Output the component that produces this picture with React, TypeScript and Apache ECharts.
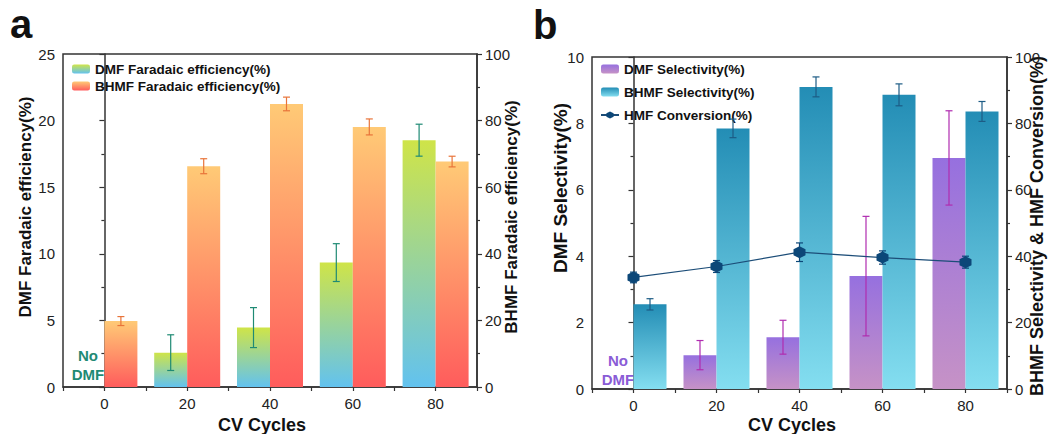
import React, { useEffect, useRef } from "react";
import * as echarts from "echarts";

// ---------------- data ----------------
const CYCLES = [0, 20, 40, 60, 80];
const X_TICK_LABELS = [0, 20, 40, 60, 80];

// panel a
const DMF_FE = [null, 2.58, 4.46, 9.34, 18.53];
const DMF_FE_ERR = [null, 1.34, 1.5, 1.42, 1.2];
const BHMF_FE = [19.8, 66.3, 85.0, 78.1, 67.7];
const BHMF_FE_ERR = [1.35, 2.25, 2.05, 2.4, 1.6];

// panel b
const DMF_SEL = [null, 1.02, 1.56, 3.4, 6.96];
const DMF_SEL_ERR = [null, 0.44, 0.51, 1.8, 1.42];
const BHMF_SEL = [25.5, 78.5, 91.0, 88.6, 83.6];
const BHMF_SEL_ERR = [1.7, 2.8, 3.0, 3.3, 3.0];
const HMF_CONV = [33.6, 36.9, 41.2, 39.6, 38.2];
const HMF_CONV_ERR = [1.6, 1.8, 2.8, 2.0, 1.8];

const FONT = '"Liberation Sans", Arial, Helvetica, sans-serif';
const BAR_W = 33;
const HEX = "path://M50 0 L93.3 25 L93.3 75 L50 100 L6.7 75 L6.7 25 Z";

const grad = (top: string, bottom: string) =>
  new echarts.graphic.LinearGradient(0, 0, 0, 1, [
    { offset: 0, color: top },
    { offset: 1, color: bottom },
  ]);

const pairs = (vals: (number | null)[]) =>
  CYCLES.map((c, i) => [c, vals[i]]).filter((d) => d[1] != null);
const triples = (vals: (number | null)[], errs: (number | null)[]) =>
  CYCLES.map((c, i) => [c, vals[i], errs[i]]).filter((d) => d[1] != null);

function errBar(offsetPx: number, color: string, capHalf: number) {
  return (params: any, api: any) => {
    const x = api.value(0);
    const v = api.value(1);
    const e = api.value(2);
    const p1 = api.coord([x, v + e]);
    const p2 = api.coord([x, v - e]);
    const cx = p1[0] + offsetPx;
    const style = { stroke: color, lineWidth: 1.2 };
    return {
      type: "group",
      children: [
        { type: "line", shape: { x1: cx, y1: p1[1], x2: cx, y2: p2[1] }, style },
        { type: "line", shape: { x1: cx - capHalf, y1: p1[1], x2: cx + capHalf, y2: p1[1] }, style },
        { type: "line", shape: { x1: cx - capHalf, y1: p2[1], x2: cx + capHalf, y2: p2[1] }, style },
      ],
    };
  };
}

const AX = "#333";
const xAxisBase = (gridIndex: number) => ({
  type: "value",
  gridIndex,
  min: -10,
  max: 90,
  interval: 10,
  axisLine: { show: true, onZero: false, lineStyle: { color: AX, width: 1.5 } },
  axisTick: { show: true, length: 4, lineStyle: { color: AX, width: 1.2 } },
  axisLabel: {
    formatter: (v: number) => (X_TICK_LABELS.includes(v) ? String(v) : ""),
    fontSize: 15,
    color: "#222",
    margin: 9,
    fontFamily: FONT,
  },
  splitLine: { show: false },
});

const yAxisBase = (gridIndex: number, position: string, max: number, interval: number) => ({
  type: "value",
  gridIndex,
  position,
  min: 0,
  max,
  interval,
  axisLine: { show: true, lineStyle: { color: AX, width: 1.5 } },
  axisTick: { show: true, length: 5, lineStyle: { color: AX, width: 1.2 } },
  minorTick: { show: true, splitNumber: 2, length: 3, lineStyle: { color: AX, width: 1.2 } },
  axisLabel: { fontSize: 15, color: "#222", margin: 8, fontFamily: FONT },
  splitLine: { show: false },
  minorSplitLine: { show: false },
});

const titleText = (text: string, x: number, y: number, size: number, rotate: boolean) => ({
  type: "text",
  x,
  y,
  rotation: rotate ? Math.PI / 2 : 0,
  style: {
    text,
    font: `bold ${size}px ${FONT}`,
    fill: "#111",
    align: "center",
    verticalAlign: "middle",
  },
});

export default function App() {
  const ref = useRef<HTMLDivElement>(null);
  useEffect(() => {
    if (!ref.current) return;
    const chart = echarts.init(ref.current, null, { renderer: "svg" });
    const option: any = {
      animation: false,
      backgroundColor: "#fff",
      textStyle: { fontFamily: FONT },
      grid: [
        { left: 63, top: 54, width: 414, height: 333, show: true, borderColor: AX, borderWidth: 1.5, backgroundColor: "transparent" },
        { left: 592, top: 57, width: 415, height: 332, show: true, borderColor: AX, borderWidth: 1.5, backgroundColor: "transparent" },
      ],
      xAxis: [xAxisBase(0), xAxisBase(1)],
      yAxis: [
        yAxisBase(0, "left", 25, 5),
        yAxisBase(0, "right", 100, 20),
        yAxisBase(1, "left", 10, 2),
        yAxisBase(1, "right", 100, 20),
      ],
      legend: [
        {
          orient: "vertical",
          left: 72,
          top: 62,
          padding: 0,
          itemWidth: 18,
          itemHeight: 9,
          itemGap: 3,
          textStyle: { fontSize: 13.5, fontWeight: "bold", color: "#111", fontFamily: FONT },
          data: ["DMF Faradaic efficiency(%)", "BHMF Faradaic efficiency(%)"],
        },
        {
          orient: "vertical",
          left: 600,
          top: 62,
          padding: 0,
          itemWidth: 18,
          itemHeight: 9,
          itemGap: 9,
          textStyle: { fontSize: 13.5, fontWeight: "bold", color: "#111", fontFamily: FONT },
          data: ["DMF Selectivity(%)", "BHMF Selectivity(%)", "HMF Conversion(%)"],
        },
      ],
      series: [
        // panel a bars
        {
          name: "DMF Faradaic efficiency(%)",
          type: "bar",
          xAxisIndex: 0,
          yAxisIndex: 0,
          barWidth: BAR_W,
          barGap: "0%",
          itemStyle: { color: grad("#cfe448", "#62c2ef") },
          data: pairs(DMF_FE),
        },
        {
          name: "BHMF Faradaic efficiency(%)",
          type: "bar",
          xAxisIndex: 0,
          yAxisIndex: 1,
          barWidth: BAR_W,
          barGap: "0%",
          itemStyle: { color: grad("#ffca76", "#ff5c5c") },
          data: pairs(BHMF_FE),
        },
        {
          name: "DMF FE error",
          type: "custom",
          xAxisIndex: 0,
          yAxisIndex: 0,
          z: 5,
          encode: { x: 0, y: [1] },
          renderItem: errBar(-BAR_W / 2, "#1f8a74", 3.5),
          data: triples(DMF_FE, DMF_FE_ERR),
        },
        {
          name: "BHMF FE error",
          type: "custom",
          xAxisIndex: 0,
          yAxisIndex: 1,
          z: 5,
          encode: { x: 0, y: [1] },
          renderItem: errBar(BAR_W / 2, "#e8743a", 3.5),
          data: triples(BHMF_FE, BHMF_FE_ERR),
        },
        // panel b bars
        {
          name: "DMF Selectivity(%)",
          type: "bar",
          xAxisIndex: 1,
          yAxisIndex: 2,
          barWidth: BAR_W,
          barGap: "0%",
          itemStyle: { color: grad("#9670df", "#c692c6") },
          data: pairs(DMF_SEL),
        },
        {
          name: "BHMF Selectivity(%)",
          type: "bar",
          xAxisIndex: 1,
          yAxisIndex: 3,
          barWidth: BAR_W,
          barGap: "0%",
          itemStyle: { color: grad("#238db5", "#84def0") },
          data: pairs(BHMF_SEL),
        },
        {
          name: "DMF Sel error",
          type: "custom",
          xAxisIndex: 1,
          yAxisIndex: 2,
          z: 5,
          encode: { x: 0, y: [1] },
          renderItem: errBar(-BAR_W / 2, "#b02cb0", 3.5),
          data: triples(DMF_SEL, DMF_SEL_ERR),
        },
        {
          name: "BHMF Sel error",
          type: "custom",
          xAxisIndex: 1,
          yAxisIndex: 3,
          z: 5,
          encode: { x: 0, y: [1] },
          renderItem: errBar(BAR_W / 2, "#1d5c85", 3.5),
          data: triples(BHMF_SEL, BHMF_SEL_ERR),
        },
        {
          name: "HMF Conv error",
          type: "custom",
          xAxisIndex: 1,
          yAxisIndex: 3,
          z: 5,
          encode: { x: 0, y: [1] },
          renderItem: errBar(0, "#0c4778", 3.5),
          data: triples(HMF_CONV, HMF_CONV_ERR),
        },
        {
          name: "HMF Conversion(%)",
          type: "line",
          xAxisIndex: 1,
          yAxisIndex: 3,
          z: 6,
          symbol: HEX,
          symbolSize: 12,
          itemStyle: { color: "#0c4778" },
          lineStyle: { color: "#1c4d78", width: 1.2 },
          data: pairs(HMF_CONV),
        },
      ],
      graphic: [
        { type: "text", x: 10, y: 44, style: { text: "a", font: `bold 40px ${FONT}`, fill: "#111", verticalAlign: "bottom" } },
        { type: "text", x: 533, y: 45, style: { text: "b", font: `bold 40px ${FONT}`, fill: "#111", verticalAlign: "bottom" } },
        titleText("DMF Faradaic efficiency(%)", 25, 207, 17, true),
        titleText("BHMF Faradaic efficiency(%)", 511, 217, 17, true),
        titleText("CV Cycles", 262, 425, 18, false),
        titleText("DMF Selectivity(%)", 560, 188, 19, true),
        titleText("BHMF Selectivity & HMF Conversion(%)", 1037, 226, 18, true),
        titleText("CV Cycles", 792, 425, 18, false),
        {
          type: "text",
          x: 88,
          y: 364.5,
          style: { text: "No\nDMF", font: `bold 15px ${FONT}`, fill: "#1f8a74", align: "center", verticalAlign: "middle", lineHeight: 19 },
        },
        {
          type: "text",
          x: 618,
          y: 369.5,
          style: { text: "No\nDMF", font: `bold 15px ${FONT}`, fill: "#8a5cd6", align: "center", verticalAlign: "middle", lineHeight: 19 },
        },
      ],
    };
    chart.setOption(option);
    return () => chart.dispose();
  }, []);
  return (
    <div
      ref={ref}
      style={{ position: "fixed", left: 0, top: 0, width: 1057, height: 434, background: "#fff" }}
    />
  );
}
